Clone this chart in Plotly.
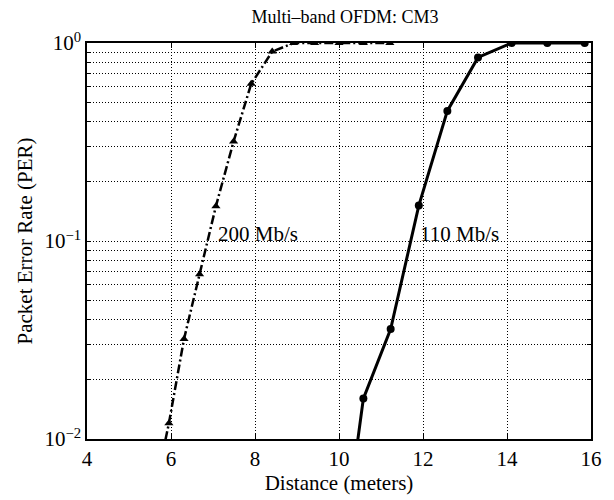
import plotly.graph_objects as go
import numpy as np

# 200 Mb/s (dash-dot, triangles)
x200 = [5.7, 5.95, 6.31, 6.68, 7.07, 7.49, 7.91, 8.41, 8.92, 9.42, 10.0, 10.58, 11.21]
y200 = [0.0067, 0.012, 0.032, 0.068, 0.150, 0.318, 0.622, 0.905, 1.0, 1.0, 1.0, 1.0, 1.0]

# 110 Mb/s (solid, circles)
x110 = [10.3, 10.58, 11.23, 11.9, 12.58, 13.31, 14.11, 14.96, 15.85]
y110 = [0.0058, 0.016, 0.0359, 0.151, 0.454, 0.845, 1.0, 1.0, 1.0]

x_ticks = [4, 6, 8, 10, 12, 14, 16]
y_major = [0.01, 0.1, 1.0]
y_major_text = ["10<sup>−2</sup>", "10<sup>−1</sup>", "10<sup>0</sup>"]

labels = ["200 Mb/s", "110 Mb/s"]
label_x = [7.08, 11.88]
label_y = [0.109, 0.109]

FONT = "Liberation Serif, Times New Roman, serif"

# build y tick values at 1..9 per decade
yvals, ytext = [], []
for d in [-2, -1]:
    for m in range(1, 10):
        v = m * 10.0 ** d
        yvals.append(v)
        ytext.append(y_major_text[y_major.index(v)] if m == 1 else "")
yvals.append(1.0)
ytext.append(y_major_text[2])

fig = go.Figure()
fig.add_trace(go.Scatter(
    x=x200, y=y200, mode="lines+markers",
    line=dict(color="black", width=2.5, dash="9px,3px,2px,3px"),
    marker=dict(symbol="triangle-up", size=8, color="black"),
    showlegend=False))
fig.add_trace(go.Scatter(
    x=x110, y=y110, mode="lines+markers",
    line=dict(color="black", width=3),
    marker=dict(symbol="circle", size=8, color="black"),
    showlegend=False))

for t, xx, yy in zip(labels, label_x, label_y):
    fig.add_annotation(x=xx, y=np.log10(yy), text=t, showarrow=False,
                       xanchor="left", yanchor="middle",
                       font=dict(family=FONT, size=21, color="black"))

fig.update_layout(
    width=614, height=500,
    margin=dict(l=87, r=17, t=43, b=56),
    paper_bgcolor="white", plot_bgcolor="white",
    title=dict(text="Multi–band OFDM: CM3", x=0.562, xanchor="center",
               y=0.966, yanchor="middle",
               font=dict(family=FONT, size=18, color="black")),
    font=dict(family=FONT, color="black"),
)
fig.update_xaxes(
    range=[4, 16], tickvals=x_ticks, ticktext=[str(v) for v in x_ticks],
    showgrid=True, gridcolor="black", griddash="1px,2px", gridwidth=1,
    showline=True, linecolor="black", linewidth=1.5, mirror="ticks",
    ticks="inside", ticklen=5, tickcolor="black", zeroline=False,
    tickfont=dict(family=FONT, size=21),
    title=dict(text="Distance (meters)", font=dict(family=FONT, size=21), standoff=2),
)
fig.update_yaxes(
    type="log", range=[-2, 0], tickvals=yvals, ticktext=ytext,
    showgrid=True, gridcolor="black", griddash="1px,2px", gridwidth=1,
    showline=True, linecolor="black", linewidth=1.5, mirror="ticks",
    ticks="inside", ticklen=4, tickcolor="black", zeroline=False,
    tickfont=dict(family=FONT, size=21),
    title=dict(text="Packet Error Rate (PER)", font=dict(family=FONT, size=21), standoff=6),
)

fig.write_html("out.html")
